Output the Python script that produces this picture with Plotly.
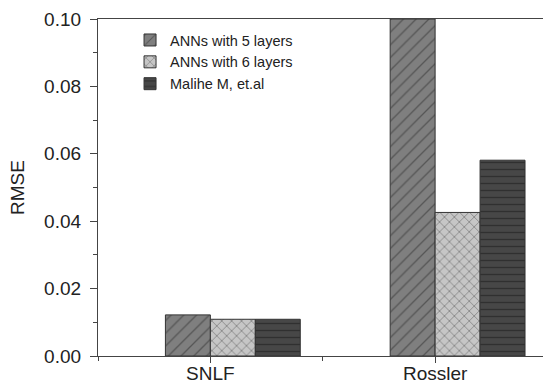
import plotly.graph_objects as go

categories = ["SNLF", "Rossler"]
series_names = ["ANNs with 5 layers", "ANNs with 6 layers", "Malihe M, et.al"]
ann5 = [0.0122, 0.1000]
ann6 = [0.0109, 0.0426]
malihe = [0.0109, 0.0581]
y_ticks = [0.00, 0.02, 0.04, 0.06, 0.08, 0.10]

series_values = [ann5, ann6, malihe]
styles = [
    dict(bg="#7f7f7f", fg="#2e2e2e", shape="/", size=9, sol=0.15, offset=-0.2),
    dict(bg="#c6c6c6", fg="#2e2e2e", shape="x", size=7, sol=0.2, offset=0.0),
    dict(bg="#474747", fg="#1a1a1a", shape="-", size=7, sol=0.2, offset=0.2),
]
bar_width = 0.2

xpos = list(range(len(categories)))

fig = go.Figure()
for name, vals, st in zip(series_names, series_values, styles):
    fig.add_trace(go.Bar(
        x=xpos, y=vals, name=name, width=bar_width, offset=st["offset"],
        marker=dict(
            color=st["bg"],
            line=dict(color="#333333", width=1),
            pattern=dict(shape=st["shape"], fgcolor=st["fg"], bgcolor=st["bg"],
                         size=st["size"], solidity=st["sol"], fillmode="overlay"),
        ),
    ))

font_family = "Liberation Sans, Arial, sans-serif"
fig.update_layout(
    width=543, height=383,
    margin=dict(l=98, r=0, t=19, b=27),
    paper_bgcolor="white", plot_bgcolor="white",
    barmode="overlay",
    font=dict(family=font_family, color="#222222"),
    showlegend=True,
    legend=dict(x=0.072, y=0.985, xanchor="left", yanchor="top",
                font=dict(size=14.5, color="#222222"),
                bgcolor="rgba(0,0,0,0)", tracegroupgap=0,
                itemwidth=30),
    xaxis=dict(
        range=[-0.5, 1.48], tickvals=xpos, ticktext=categories,
        showline=True, linecolor="#444444", linewidth=1, mirror=True,
        ticks="outside", ticklen=6, tickcolor="#444444",
        minor=dict(dtick=0.5, tick0=0.5, ticks="outside", ticklen=4, tickcolor="#444444"),
        tickfont=dict(size=19), showgrid=False, zeroline=False,
        automargin=False, ticklabelstandoff=-6,
    ),
    yaxis=dict(
        range=[0, 0.1], tickvals=y_ticks, tickformat=".2f",
        showline=True, linecolor="#444444", linewidth=1.3, mirror=False,
        ticks="outside", ticklen=7, tickcolor="#444444",
        minor=dict(dtick=0.01, ticks="outside", ticklen=4, tickcolor="#444444"),
        tickfont=dict(size=19), showgrid=False, zeroline=False,
        ticklabelstandoff=5, automargin=False,
        title=dict(text="RMSE", font=dict(size=19), standoff=14),
    ),
)

fig.write_html("out.html")
